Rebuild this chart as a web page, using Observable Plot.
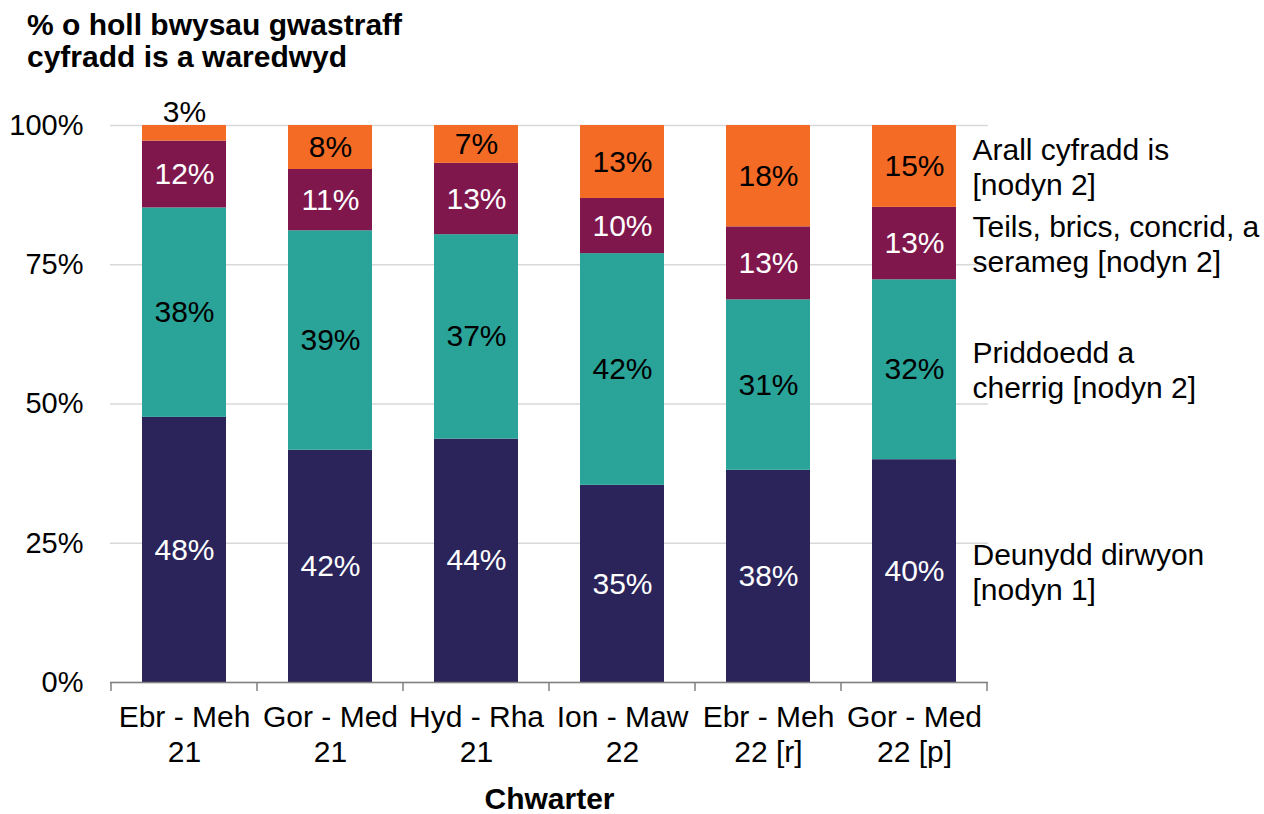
<!DOCTYPE html>
<html>
<head>
<meta charset="utf-8">
<script src="https://cdn.jsdelivr.net/npm/d3@7"></script>
<script src="https://cdn.jsdelivr.net/npm/@observablehq/plot@0.6"></script>
<style>
  html, body { margin: 0; padding: 0; background: white; }
  body { width: 1264px; height: 814px; overflow: hidden; font-family: "Liberation Sans", Arial, sans-serif; }
  #title { box-sizing: border-box; height: 90px; padding: 9px 0 0 27px; font-size: 30px; font-weight: bold; line-height: 32px; color: black; }
  #chart svg { display: block; }
</style>
</head>
<body>
<div id="title">% o holl bwysau gwastraff<br>cyfradd is a waredwyd</div>
<div id="chart"></div>
<script>
const quarters = ["Ebr - Meh\n21", "Gor - Med\n21", "Hyd - Rha\n21", "Ion - Maw\n22", "Ebr - Meh\n22 [r]", "Gor - Med\n22 [p]"];
const series = ["Deunydd dirwyon", "Priddoedd a cherrig", "Teils, brics, concrid, a serameg", "Arall cyfradd is"];
const legendLabels = ["Deunydd dirwyon\n[nodyn 1]", "Priddoedd a\ncherrig [nodyn 2]", "Teils, brics, concrid, a\nserameg [nodyn 2]", "Arall cyfradd is\n[nodyn 2]"];
const fineMaterial = [47.6, 41.7, 43.7, 35.4, 38.1, 40.0];
const soilsStones = [37.6, 39.4, 36.7, 41.6, 30.6, 32.3];
const tilesBricks = [12.0, 11.0, 12.8, 9.9, 13.1, 13.0];
const otherLower = [2.8, 7.9, 6.8, 13.1, 18.2, 14.7];
const seriesValues = [fineMaterial, soilsStones, tilesBricks, otherLower];
const colors = ["#2a245a", "#2aa398", "#7f174d", "#f46b26"];
const labelColors = ["white", "black", "white", "black"];
const yTicks = [0, 25, 50, 75, 100];

const data = [];
quarters.forEach((q, i) => {
  series.forEach((s, j) => {
    data.push({quarter: q, series: s, si: j, value: seriesValues[j][i], label: Math.round(seriesValues[j][i]) + "%"});
  });
});
const lastQ = quarters[quarters.length - 1];
const base = {x: "quarter", y: "value", z: "series"};
const fs = 30;

const chart = Plot.plot({
  width: 1264,
  height: 724,
  marginLeft: 110,
  marginRight: 276,
  marginTop: 35,
  marginBottom: 132,
  style: {fontFamily: '"Liberation Sans", Arial, sans-serif', fontSize: fs + "px", color: "black", background: "white", overflow: "visible"},
  x: {domain: quarters, paddingInner: 0.426, paddingOuter: 0.213, label: null},
  y: {domain: [0, 100], label: null},
  color: {domain: series, range: colors},
  marks: [
    Plot.gridY(yTicks, {stroke: "#d9d9d9", strokeOpacity: 1, strokeWidth: 1.5}),
    Plot.axisY({ticks: yTicks, tickFormat: d => d + "%", tickSize: 0, tickPadding: 27, fontSize: 29, label: null}),
    Plot.axisX({tickSize: 0, tickPadding: 20, fontSize: fs, lineHeight: 35 / fs, label: null}),
    Plot.barY(data, {...base, fill: "series"}),
    Plot.ruleY([0], {stroke: "#808080", strokeWidth: 1.5}),
    ...labelColors.map((c, j) => Plot.text(data, Plot.stackY({...base,
      text: d => (d.si === j && d.value >= 5) ? d.label : null,
      fill: c, fontSize: fs}))),
    Plot.text(data, Plot.stackY2({...base,
      text: d => d.value < 5 ? d.label : null,
      lineAnchor: "bottom", dy: -4, fill: "black", fontSize: fs})),
    Plot.text(data, Plot.stackY({...base,
      text: d => d.quarter === lastQ ? legendLabels[d.si] : null,
      textAnchor: "start", dx: 58, lineHeight: 35 / fs, fill: "black", fontSize: fs})),
    Plot.text(["Chwarter"], {frameAnchor: "bottom", dy: 117, lineAnchor: "middle", fontWeight: "bold", fontSize: fs, fill: "black"})
  ]
});

// category boundary tick marks below the axis, derived from the band scale
const sx = chart.scale("x");
const sy = chart.scale("y");
const y0 = sy.apply(0);
const half = (sx.step - sx.bandwidth) / 2;
const bounds = sx.domain.map(q => sx.apply(q) - half);
bounds.push(sx.apply(sx.domain[sx.domain.length - 1]) + sx.bandwidth + half);
d3.select(chart).append("g")
  .selectAll("line").data(bounds).join("line")
  .attr("x1", d => d).attr("x2", d => d)
  .attr("y1", y0).attr("y2", y0 + 9)
  .attr("stroke", "#808080").attr("stroke-width", 1.5);

document.getElementById("chart").appendChild(chart);
</script>
</body>
</html>
